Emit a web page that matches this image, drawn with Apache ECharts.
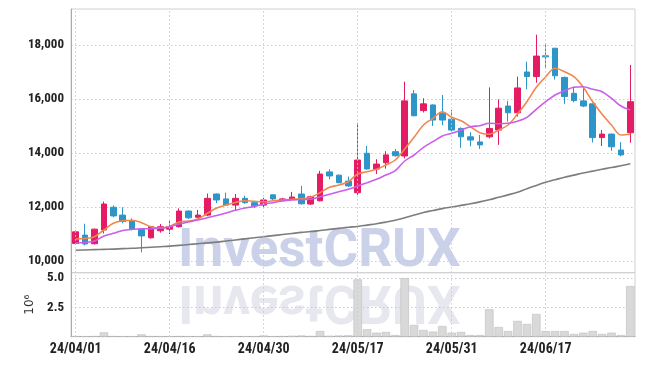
<!DOCTYPE html>
<html><head><meta charset="utf-8">
<script src="https://cdn.jsdelivr.net/npm/echarts@6/dist/echarts.min.js"></script>
<style>html,body{margin:0;padding:0;background:#fff}#c{width:645px;height:366px}</style>
</head><body><div id="c"></div>
<script>
const dates = ['24/04/01','24/04/02','24/04/03','24/04/04','24/04/05','24/04/08','24/04/09','24/04/11','24/04/12','24/04/15',
'24/04/16','24/04/17','24/04/18','24/04/19','24/04/22','24/04/23','24/04/24','24/04/25','24/04/26','24/04/29',
'24/04/30','24/05/02','24/05/03','24/05/07','24/05/08','24/05/09','24/05/10','24/05/13','24/05/14','24/05/16',
'24/05/17','24/05/20','24/05/21','24/05/22','24/05/23','24/05/24','24/05/27','24/05/28','24/05/29','24/05/30',
'24/05/31','24/06/03','24/06/04','24/06/05','24/06/07','24/06/10','24/06/11','24/06/12','24/06/13','24/06/14',
'24/06/17','24/06/18','24/06/19','24/06/20','24/06/21','24/06/24','24/06/25','24/06/26','24/06/27','24/06/28'];
const opens = [10650,10960,10640,11150,11990,11700,11480,11170,10860,11120,
11180,11270,11850,11620,11700,12480,12300,12070,12320,12160,
12070,12450,12230,12300,12480,12110,12230,13300,13180,12960,
12530,13990,13410,13640,14050,13890,16190,15570,15780,15470,
15250,14910,14600,14410,14600,14850,15740,15490,17000,16830,
17600,17880,16800,16210,15930,15820,14570,14700,14110,14750];
const closes = [11080,10630,11180,12110,11670,11460,11170,10930,11270,11270,
11270,11850,11600,11700,12320,12260,12070,12320,12160,12050,
12260,12300,12300,12370,12120,12380,13220,13150,12900,12780,
13740,13410,13590,13930,13900,15930,15380,15820,15220,15220,
14850,14600,14480,14300,14910,15660,15490,16410,16830,17590,
17560,16860,16090,15940,15740,14570,14700,14230,13930,15900];
const lows = [10600,10580,10610,11020,11620,11400,11130,10320,10830,11050,
11000,11240,11550,11590,11660,12140,12040,11890,12120,11960,
11980,12260,12220,12290,12090,12080,12210,13030,12880,12740,
12450,13380,13220,13420,13860,13800,15360,15500,15000,15030,
14780,14190,14250,14150,14540,14300,15160,15350,16360,16600,
17140,16720,15820,15880,15700,14390,14260,14080,13880,14380];
const highs = [11130,11380,11200,12200,12060,11990,11580,11200,11300,11370,
11490,11950,11870,11890,12500,12500,12530,12480,12420,12180,
12340,12460,12340,12560,12780,12420,13340,13400,13200,13130,
15120,14260,13770,14070,14150,16640,16330,16030,15800,16150,
15600,14950,14770,14670,16430,15990,15930,16830,17380,18380,
18060,17890,16830,16460,16460,15830,14850,14720,14400,17260];
const ma5 = [10815,10833,10900,11148,11396,11493,11507,11419,11270,11222,
11278,11444,11481,11556,11767,11963,12074,12167,12233,12211,
12196,12233,12259,12285,12304,12360,12530,12730,12815,12937,
13222,13307,13396,13556,13741,14148,14582,15037,15285,15530,
15322,15197,14974,14752,14693,14852,15037,15444,15900,16434,
16826,17137,17011,16826,16434,15900,15433,15037,14667,14693];
const ma20 = [10667,10685,10741,10926,11026,11130,11174,11196,11196,11211,
11270,11370,11444,11519,11604,11685,11778,11878,11963,12019,
12111,12160,12233,12259,12278,12285,12382,12471,12567,12656,
12778,12900,13026,13185,13345,13704,13926,14211,14419,14630,
14730,14852,14974,15011,15100,15085,15100,15178,15322,15619,
15900,16148,16308,16434,16456,16360,16271,16026,15741,15593];
const ma120 = [10400,10410,10420,10430,10440,10460,10470,10490,10510,10530,
10550,10580,10610,10640,10670,10700,10740,10780,10820,10860,
10900,10940,10980,11020,11060,11090,11130,11170,11210,11250,
11280,11330,11380,11440,11510,11600,11700,11800,11870,11940,
12000,12060,12120,12190,12270,12360,12450,12550,12680,12800,
12920,13010,13100,13180,13260,13330,13400,13460,13530,13600];
const volumesM = [0.05,0.04,0.05,0.37,0.05,0.04,0.04,0.20,0.05,0.04,
0.04,0.05,0.04,0.04,0.20,0.05,0.04,0.04,0.04,0.04,
0.10,0.04,0.05,0.08,0.10,0.06,0.48,0.08,0.10,0.12,
4.88,0.63,0.34,0.40,0.14,4.99,1.00,0.57,0.43,0.91,
0.34,0.40,0.14,0.14,2.33,0.82,0.48,1.34,1.08,1.93,
0.48,0.48,0.48,0.23,0.34,0.48,0.23,0.34,0.14,4.31];
const priceTicks = [10000,12000,14000,16000,18000];
const volumeTicks = [2500000,5000000];
const labelDates = ['24/04/01','24/04/16','24/04/30','24/05/17','24/05/31','24/06/17'];

const UP = '#e31c64', DOWN = '#2e95c8';
const candles = dates.map((d,i)=>[opens[i],closes[i],lows[i],highs[i]]);
const volumes = volumesM.map(v=>Math.round(v*1e6));
const gridDot = {color:'#c9c9d9', type:[1.5,2.5], width:1};
const vLines = {symbol:'none', silent:true, label:{show:false}, lineStyle:gridDot, animation:false,
  data: labelDates.map(d=>({xAxis:d}))};
const labelFont = {fontFamily:'"Roboto Condensed", Roboto, sans-serif', fontWeight:'bold', fontSize:13, color:'#222'};

const chart = echarts.init(document.getElementById('c'), null, {renderer:'canvas'});
chart.setOption({
  animation:false,
  backgroundColor:'#fff',
  grid:[
    {left:71, right:10, top:9, height:263.7, show:true, borderColor:'#d0d0d0', borderWidth:1},
    {left:71, right:10, top:272.7, height:64, show:true, borderColor:'#d0d0d0', borderWidth:1}
  ],
  xAxis:[
    {type:'category', data:dates, gridIndex:0, boundaryGap:true,
      axisLine:{show:false}, axisTick:{show:false}, axisLabel:{show:false}, splitLine:{show:false}},
    {type:'category', data:dates, gridIndex:1, boundaryGap:true,
      axisLine:{show:true, lineStyle:{color:'#aaa'}}, axisTick:{show:false},
      axisLabel:Object.assign({}, labelFont, {interval:9, margin:6, fontSize:14}), splitLine:{show:false}}
  ],
  yAxis:[
    {type:'value', gridIndex:0, min:9567, max:19333,
      axisLine:{show:true, lineStyle:{color:'#aaa'}},
      axisTick:{show:false, customValues:priceTicks},
      axisLabel:Object.assign({customValues:priceTicks, margin:7,
        formatter:v=>v.toLocaleString('en-US')}, labelFont),
      splitLine:{show:true, lineStyle:gridDot}},
    {type:'value', gridIndex:1, min:0, max:5450000,
      name:'10⁶', nameLocation:'middle', nameGap:32, nameRotate:90,
      nameTextStyle:{fontFamily:'DejaVu Sans', fontSize:12, color:'#333'},
      axisLine:{show:true, lineStyle:{color:'#aaa'}},
      axisTick:{show:false, customValues:volumeTicks},
      axisLabel:Object.assign({customValues:volumeTicks, margin:7,
        formatter:v=>(v/1e6).toFixed(1)}, labelFont),
      splitLine:{show:true, lineStyle:gridDot}}
  ],
  graphic:[
    {type:'text', z:0, left:178, top:226, silent:true,
      style:{text:'InvestCRUX', font:'bold 53px Roboto', fill:'rgba(184,194,224,0.75)'}},
    {type:'text', z:0, left:178, top:273, silent:true, scaleY:-1, originY:24,
      style:{text:'InvestCRUX', font:'bold 53px Roboto', fill:'rgba(215,215,228,0.6)'}}
  ],
  series:[
    {type:'candlestick', name:'price', xAxisIndex:0, yAxisIndex:0, data:candles, barWidth:6,
      itemStyle:{color:UP, color0:DOWN, borderColor:UP, borderColor0:DOWN, borderWidth:1},
      markLine:vLines},
    {type:'line', name:'MA5', xAxisIndex:0, yAxisIndex:0, data:ma5, smooth:0.35, symbol:'none',
      lineStyle:{color:'#f0874f', width:1.6}},
    {type:'line', name:'MA20', xAxisIndex:0, yAxisIndex:0, data:ma20, smooth:0.35, symbol:'none',
      lineStyle:{color:'#c95ee8', width:1.6}},
    {type:'line', name:'MA120', xAxisIndex:0, yAxisIndex:0, data:ma120, smooth:0.35, symbol:'none',
      lineStyle:{color:'#7d7d7d', width:1.6}},
    {type:'bar', name:'volume', xAxisIndex:1, yAxisIndex:1, data:volumes, barCategoryGap:'10%',
      itemStyle:{color:'#d9d9d9', borderColor:'#bdbdbd', borderWidth:0.6},
      markLine:vLines}
  ]
});
</script></body></html>
